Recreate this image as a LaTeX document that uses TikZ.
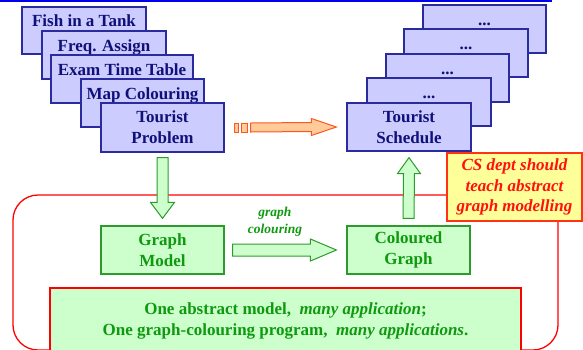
\documentclass[tikz,border=0pt]{standalone}
\usepackage{fontspec}
\setmainfont{Liberation Serif}
\usetikzlibrary{calc}
\definecolor{bfill}{HTML}{CCCCFF}
\definecolor{bdraw}{HTML}{2B2BA0}
\definecolor{btext}{HTML}{10107A}
\definecolor{gfill}{HTML}{CCFFCC}
\definecolor{gdraw}{HTML}{2E9A2E}
\definecolor{gtext}{HTML}{0F990F}
\definecolor{ofill}{HTML}{FFCC99}
\definecolor{odraw}{HTML}{FF5522}
\definecolor{yfill}{HTML}{FFFF99}
\definecolor{cstext}{HTML}{FF1111}
\definecolor{csdraw}{HTML}{FF3311}
\definecolor{rline}{HTML}{FF0000}
\definecolor{topline}{HTML}{0000EE}
\newcommand\stackstrut{\rule[-22pt]{0pt}{36pt}}
\begin{document}
\begin{tikzpicture}[x=1pt,y=-1pt,
 bigfont/.style={font=\fontsize{17}{21}\selectfont\bfseries},
 bluebox/.style={bigfont,draw=bdraw,fill=bfill,line width=1.2pt,minimum width=123pt,minimum height=48pt,inner sep=0pt,align=center,text=btext},
 greenbox/.style={bigfont,draw=gdraw,fill=gfill,line width=1.2pt,minimum width=123pt,minimum height=48pt,inner sep=0pt,align=center,text=gtext},
 csbox/.style={font=\fontsize{17}{20.5}\selectfont\bfseries\itshape,draw=csdraw,fill=yfill,line width=1.6pt,minimum width=135pt,minimum height=68pt,inner sep=0pt,align=center,text=cstext},
 framebox/.style={draw=rline,line width=1.3pt,rounded corners=25pt,minimum width=545pt,minimum height=155pt,inner sep=0pt},
 msgbox/.style={bigfont,draw=rline,fill=gfill,line width=1.2pt,minimum width=471pt,minimum height=65pt,inner sep=0pt,align=center,text=gtext},
 glabel/.style={font=\fontsize{13.5}{17}\selectfont\bfseries\itshape,text=gtext,align=center,inner sep=0pt},
 oarrow/.style={draw=odraw,fill=ofill,line width=1pt},
 garrow/.style={draw=gdraw,fill=gfill,line width=1pt},
]
\clip (0,0) rectangle (583,349);
\draw[topline,line width=1.5pt] (0,1) -- (552,1);

% left stack
\node[bluebox,minimum width=124pt,minimum height=47pt] (fish) at (84,30.5) {\stackstrut Fish in a Tank};
\node[bluebox,minimum width=124pt] (freq) at (104,55) {\stackstrut Freq. Assign};
\node[bluebox,minimum width=142pt] (exam) at (122,79) {\stackstrut Exam Time Table};
\node[bluebox] (map) at (142.5,103) {\stackstrut Map Colouring};
\node[bluebox,minimum height=49pt] (prob) at (162.5,127.5) {Tourist\\Problem};

% right stack
\node[bluebox] (d1) at (484.5,29) {\stackstrut ...};
\node[bluebox,minimum width=124pt] (d2) at (466,53) {\stackstrut ...};
\node[bluebox] (d3) at (447.5,78) {\stackstrut ...};
\node[bluebox,minimum width=124pt] (d4) at (429,102) {\stackstrut ...};
\node[bluebox,minimum width=124pt] (sched) at (409,127) {Tourist\\Schedule};

% frame and message
\node[framebox] (frame) at (285.5,272.5) {};
\node[msgbox] (msg) at (285.5,320.5) {One abstract model,\ \ \textit{many application};\\One graph-colouring program,\ \ \textit{many applications}.};

% green boxes
\node[greenbox] (gm) at (162.5,250) {Graph\\Model};
\node[greenbox] (cg) at (408.5,250) {Coloured\\Graph};

% orange arrow
\coordinate (oA) at ($(prob.east)+(26,0)$);
\coordinate (oB) at ($(sched.west)+(-10,0)$);
\draw[oarrow] ($(oA)+(-16,-4.5)$) rectangle ($(oA)+(-12,4.5)$);
\draw[oarrow] ($(oA)+(-9,-4.5)$) rectangle ($(oA)+(-3,4.5)$);
\draw[oarrow] ($(oA)+(0,-4.5)$) -- ($(oB)+(-25,-4.5)$) -- ($(oB)+(-25,-8.5)$) -- (oB) -- ($(oB)+(-25,8.5)$) -- ($(oB)+(-25,4.5)$) -- ($(oA)+(0,4.5)$) -- cycle;

% down arrow
\coordinate (dA) at ($(prob.south)+(0,5)$);
\coordinate (dB) at ($(gm.north)+(0,-7)$);
\draw[garrow] ($(dA)+(-5.5,0)$) -- ($(dB)+(-5.5,-16)$) -- ($(dB)+(-12,-16)$) -- (dB) -- ($(dB)+(12,-16)$) -- ($(dB)+(5.5,-16)$) -- ($(dA)+(5.5,0)$) -- cycle;

% right arrow
\coordinate (gA) at ($(gm.east)+(8,0)$);
\coordinate (gB) at ($(cg.west)+(-10,0)$);
\draw[garrow] ($(gA)+(0,-6)$) -- ($(gB)+(-26,-6)$) -- ($(gB)+(-26,-11)$) -- (gB) -- ($(gB)+(-26,11)$) -- ($(gB)+(-26,6)$) -- ($(gA)+(0,6)$) -- cycle;
\node[glabel] (gclab) at (275,222) {graph\\colouring};

% up arrow
\coordinate (uA) at ($(cg.north)+(0,-7)$);
\coordinate (uB) at ($(sched.south)+(0,6)$);
\draw[garrow] ($(uA)+(-5.5,0)$) -- ($(uB)+(-5.5,16)$) -- ($(uB)+(-11.5,16)$) -- (uB) -- ($(uB)+(11.5,16)$) -- ($(uB)+(5.5,16)$) -- ($(uA)+(5.5,0)$) -- cycle;

% CS note
\node[csbox] (cs) at (514.5,187) {CS dept should\\teach abstract\\graph modelling};
\end{tikzpicture}
\end{document}
